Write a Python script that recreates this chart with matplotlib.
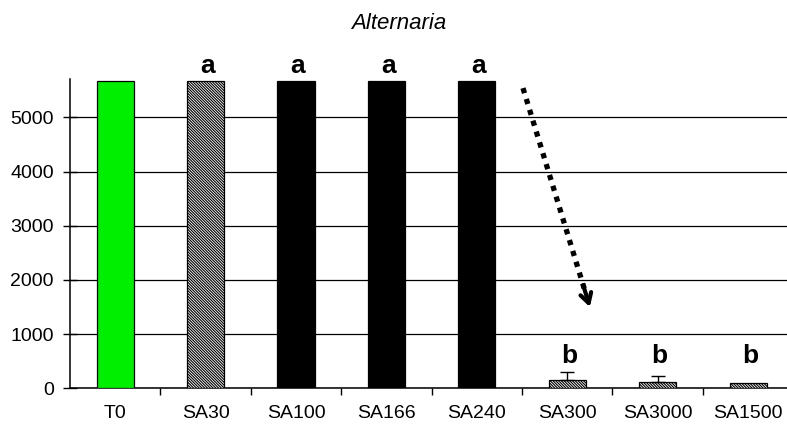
import matplotlib
matplotlib.use('Agg')
import matplotlib.pyplot as plt

plt.rcParams['font.family'] = ['Liberation Sans', 'DejaVu Sans']
plt.rcParams['hatch.linewidth'] = 0.8

categories = ['T0', 'SA30', 'SA100', 'SA166', 'SA240', 'SA300', 'SA3000', 'SA1500']
values = [5670, 5670, 5670, 5670, 5670, 150, 120, 90]
errors = [0, 0, 0, 0, 0, 155, 105, 0]
letters = ['', 'a', 'a', 'a', 'a', 'b', 'b', 'b']
colors = ['#00ee00', 'white', 'black', 'black', 'black', 'white', 'white', 'white']
hatched = [False, True, False, False, False, True, True, True]
yticks = [0, 1000, 2000, 3000, 4000, 5000]

# dotted arrow pointing at the drop (data coords)
arrow_start = (4.51, 5540)
arrow_end = (5.25, 1500)

fig = plt.figure(figsize=(7.87, 4.26), dpi=100)
ax = fig.add_axes([0.0889, 0.0885, 0.9111, 0.725])

x = range(len(categories))
for i in x:
    ax.bar(i, values[i], width=0.41, color=colors[i], edgecolor='black',
           hatch='\\' * 12 if hatched[i] else '', linewidth=0.9, zorder=3)
    if errors[i] > 0:
        ax.errorbar(i, values[i], yerr=[[0], [errors[i]]], fmt='none',
                    ecolor='black', elinewidth=1, capsize=5, capthick=1, zorder=4)
    if letters[i]:
        y_txt = values[i] + 140 if values[i] > 1000 else 470
        ax.text(i + 0.02, y_txt, letters[i], ha='center', va='baseline',
                fontsize=19, fontweight='bold', clip_on=False)

ax.set_xlim(-0.5, 7.43)
ax.set_ylim(0, 5700)
ax.set_yticks(yticks)
ax.yaxis.grid(True, color='black', linewidth=0.9)
ax.set_axisbelow(True)
ax.set_xticks(list(x))
ax.set_xticklabels(categories, fontsize=14)
ax.set_xticks([i + 0.5 for i in range(len(categories) - 1)], minor=True)
ax.tick_params(axis='x', which='major', length=0, pad=12)
ax.tick_params(axis='x', which='minor', length=5, width=1, direction='out')
ax.tick_params(axis='y', length=9.5, width=1, direction='inout', labelsize=14, pad=7)
for s in ['top', 'right']:
    ax.spines[s].set_visible(False)
ax.spines['left'].set_linewidth(1.1)
ax.spines['bottom'].set_linewidth(1.1)

# shaft: square dots
dx = arrow_end[0] - arrow_start[0]
dy = arrow_end[1] - arrow_start[1]
ax.plot([arrow_start[0], arrow_start[0] + dx * 0.93], [arrow_start[1], arrow_start[1] + dy * 0.93],
        color='black', linewidth=3.8, linestyle=(0, (1, 1.15)), dash_capstyle='butt',
        zorder=5, clip_on=False)
# open solid head
ax.annotate('', xy=arrow_end, xytext=(arrow_start[0] + dx * 0.9, arrow_start[1] + dy * 0.9),
            arrowprops=dict(arrowstyle='->,head_length=0.7,head_width=0.4', linewidth=3,
                            color='black', shrinkA=0, shrinkB=0), zorder=5)

fig.text(0.506, 0.944, 'Alternaria', ha='center', va='center',
         fontsize=16, style='italic')

fig.savefig('out.png', dpi=100)
